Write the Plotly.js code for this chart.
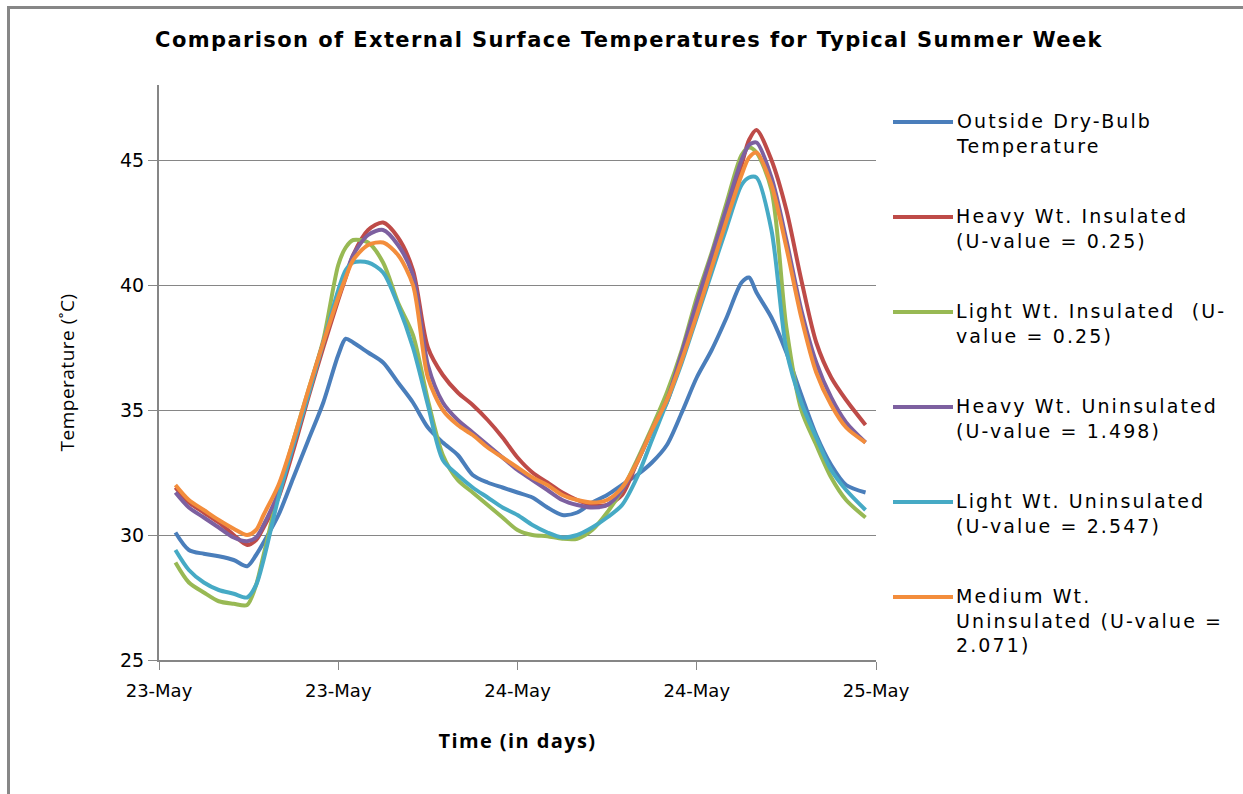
<!DOCTYPE html>
<html>
<head>
<meta charset="utf-8">
<script src="https://cdn.plot.ly/plotly-3.0.1.min.js"></script>
<style>
  html, body { margin: 0; padding: 0; background: #ffffff; }
  #wrap { position: relative; width: 1243px; height: 794px; }
  #chart { position: absolute; left: 0; top: 0; width: 1243px; height: 794px; }
  #frame { position: absolute; left: 7px; top: 6px; right: -10px; bottom: -10px;
           border-top: 3px solid #878787; border-left: 3px solid #878787; pointer-events: none; }
  #chart .gtitle { letter-spacing: 1.4px; }
  #chart .annotation-text { letter-spacing: 2.1px; }
  #chart .xtitle { letter-spacing: 1.4px; }
  #chart .ytitle { letter-spacing: 0.5px; }
</style>
</head>
<body>
<div id="wrap"><div id="chart"></div><div id="frame"></div></div>
<script>
// Time in hours from 23-May 00:00
const hours = [1.1, 2, 3, 4, 5, 5.9, 6.5, 7, 8, 9, 10, 11, 12, 12.5, 13, 14, 15, 16, 17, 18,
               19, 20, 21, 22, 23, 24, 25, 26, 27, 28, 29, 30, 31, 32, 33, 34, 35, 36, 37, 38,
               39, 39.5, 40, 41, 42, 43, 44, 45, 46, 47.3];

const outsideDryBulb = [30.1, 29.4, 29.25, 29.15, 29.0, 28.75, 29.2, 29.7, 30.8, 32.3, 33.8, 35.3, 37.2, 37.85, 37.7, 37.3, 36.9, 36.1, 35.3, 34.3,
                        33.7, 33.2, 32.4, 32.1, 31.9, 31.7, 31.5, 31.1, 30.8, 30.9, 31.3, 31.6, 32.0, 32.4, 32.9, 33.6, 34.9, 36.3, 37.4, 38.7,
                        40.1, 40.3, 39.7, 38.7, 37.3, 35.6, 34.0, 32.8, 32.0, 31.7];
const heavyInsulated = [31.9, 31.3, 30.9, 30.5, 30.0, 29.6, 29.8, 30.3, 31.5, 33.4, 35.5, 37.5, 39.4, 40.3, 41.2, 42.2, 42.5, 41.9, 40.6, 37.5,
                        36.4, 35.7, 35.2, 34.6, 33.9, 33.1, 32.5, 32.1, 31.7, 31.4, 31.2, 31.2, 31.6, 32.9, 34.2, 35.3, 37.2, 39.1, 41.0, 42.9,
                        44.8, 45.8, 46.2, 45.0, 43.0, 40.2, 37.7, 36.3, 35.4, 34.4];
const lightInsulated = [28.9, 28.1, 27.7, 27.35, 27.25, 27.2, 28.0, 29.2, 31.7, 33.8, 35.8, 37.8, 40.8, 41.5, 41.8, 41.7, 40.9, 39.3, 38.0, 35.4,
                        33.2, 32.2, 31.7, 31.2, 30.7, 30.2, 30.0, 29.95, 29.85, 29.85, 30.2, 30.9, 31.8, 33.0, 34.3, 35.7, 37.4, 39.5, 41.3, 43.3,
                        45.2, 45.5, 45.3, 43.8, 38.3, 35.0, 33.6, 32.3, 31.4, 30.7];
const heavyUninsulated = [31.7, 31.1, 30.7, 30.3, 29.9, 29.75, 29.9, 30.4, 31.7, 33.6, 35.7, 37.7, 39.6, 40.4, 41.2, 42.0, 42.2, 41.6, 40.4, 36.8,
                          35.3, 34.6, 34.1, 33.6, 33.1, 32.6, 32.2, 31.8, 31.4, 31.2, 31.1, 31.2, 31.8, 32.9, 34.2, 35.4, 37.3, 39.3, 41.2, 43.1,
                          45.0, 45.6, 45.7, 44.3, 41.8, 39.0, 36.9, 35.5, 34.5, 33.7];
const lightUninsulated = [29.4, 28.6, 28.1, 27.8, 27.65, 27.5, 28.0, 29.0, 31.5, 33.6, 35.6, 37.7, 39.8, 40.6, 40.9, 40.9, 40.5, 39.2, 37.5, 35.2,
                          33.0, 32.4, 31.9, 31.5, 31.1, 30.8, 30.4, 30.1, 29.9, 30.0, 30.3, 30.7, 31.2, 32.3, 33.8, 35.3, 36.9, 38.7, 40.5, 42.3,
                          44.0, 44.3, 44.3, 42.2, 37.4, 35.3, 33.9, 32.6, 31.8, 31.0];
const mediumUninsulated = [32.0, 31.4, 31.0, 30.6, 30.25, 30.0, 30.2, 30.8, 32.0, 33.8, 35.8, 37.7, 39.5, 40.3, 41.0, 41.6, 41.7, 41.2, 40.0, 36.3,
                           35.0, 34.4, 34.0, 33.5, 33.1, 32.7, 32.3, 32.0, 31.6, 31.4, 31.3, 31.4, 31.9, 32.9, 34.2, 35.4, 37.0, 38.8, 40.7, 42.6,
                           44.4, 45.1, 45.3, 44.0, 41.5, 38.7, 36.5, 35.2, 34.3, 33.7];

const seriesNames = ["Outside Dry-Bulb Temperature", "Heavy Wt. Insulated (U-value = 0.25)",
                     "Light Wt. Insulated (U-value = 0.25)", "Heavy Wt. Uninsulated (U-value = 1.498)",
                     "Light Wt. Uninsulated (U-value = 2.547)", "Medium Wt. Uninsulated (U-value = 2.071)"];
const legendLabels = ["Outside Dry-Bulb<br>Temperature", "Heavy Wt. Insulated<br>(U-value = 0.25)",
                      "Light Wt. Insulated  (U-<br>value = 0.25)", "Heavy Wt. Uninsulated<br>(U-value = 1.498)",
                      "Light Wt. Uninsulated<br>(U-value = 2.547)", "Medium Wt.<br>Uninsulated (U-value =<br>2.071)"];
const seriesValues = [outsideDryBulb, heavyInsulated, lightInsulated, heavyUninsulated, lightUninsulated, mediumUninsulated];
const seriesColors = ["#4A7EBB", "#BE4B48", "#98B954", "#7D60A0", "#46AAC5", "#F38D3C"];

const tickHours = [0, 12, 24, 36, 48];
const tickLabels = ["23-May", "23-May", "24-May", "24-May", "25-May"];
const yTicks = [25, 30, 35, 40, 45];

const traces = seriesValues.map((vals, i) => ({
  type: "scatter", mode: "lines", x: hours, y: vals, name: seriesNames[i],
  line: { color: seriesColors[i], width: 4, shape: "spline", smoothing: 0.8 },
  showlegend: false, hoverinfo: "x+y+name"
}));

// Manual legend (long line samples like the original)
const W = 1243, H = 794, L = 159, R = 876, T = 85, B = 660;
const px2x = p => (p - L) / (R - L);
const py2y = p => (B - p) / (B - T);
const legendTop = 122, legendStep = 95;
const shapes = [], annotations = [];
legendLabels.forEach((lab, i) => {
  const yy = legendTop + i * legendStep;
  shapes.push({ type: "line", xref: "paper", yref: "paper", x0: px2x(893), x1: px2x(953),
                y0: py2y(yy), y1: py2y(yy), line: { color: seriesColors[i], width: 4 } });
  annotations.push({ xref: "paper", yref: "paper", x: px2x(954), y: py2y(yy - 14), xanchor: "left", yanchor: "top",
                     text: lab, showarrow: false, align: "left",
                     font: { family: "DejaVu Sans, Verdana, sans-serif", size: 19, color: "#000" } });
});

const layout = {
  width: W, height: H,
  margin: { l: L, r: W - R, t: T, b: H - B, pad: 0 },
  paper_bgcolor: "#ffffff", plot_bgcolor: "#ffffff",
  showlegend: false,
  title: { text: "<b>Comparison of External Surface Temperatures for Typical Summer Week</b>",
           x: 629 / W, xanchor: "center", y: 1 - 40 / H, yanchor: "middle",
           font: { family: "DejaVu Sans, sans-serif", size: 21, color: "#000" } },
  xaxis: {
    range: [0, 48], tickvals: tickHours, ticktext: tickLabels,
    showline: true, linecolor: "#868686", linewidth: 2, mirror: false,
    ticks: "outside", ticklen: 8, tickwidth: 1, tickcolor: "#868686",
    ticklabelstandoff: 5,
    showgrid: false, zeroline: false,
    tickfont: { family: "DejaVu Sans, sans-serif", size: 18, color: "#000" },
    title: { text: "<b>Time (in days)</b>", standoff: 34,
             font: { family: "Open Sans, sans-serif", size: 20, color: "#000" } }
  },
  yaxis: {
    range: [25, 48], tickvals: yTicks,
    showline: true, linecolor: "#868686", linewidth: 2,
    ticks: "outside", ticklen: 9, tickwidth: 1, tickcolor: "#868686",
    showgrid: true, gridcolor: "#868686", gridwidth: 1, zeroline: false,
    tickfont: { family: "DejaVu Sans, sans-serif", size: 19, color: "#000" },
    title: { text: "Temperature (˚C)", standoff: 40,
             font: { family: "Open Sans, sans-serif", size: 19, color: "#000" } }
  },
  shapes: shapes,
  annotations: annotations
};

Plotly.newPlot("chart", traces, layout, { displayModeBar: false, staticPlot: true });
</script>
</body>
</html>
